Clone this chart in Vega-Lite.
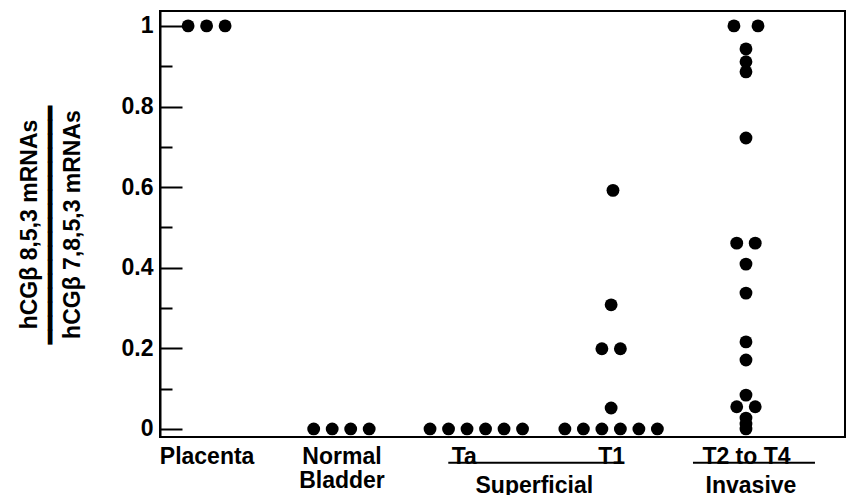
{
  "$schema": "https://vega.github.io/schema/vega-lite/v6.json",
  "width": 685,
  "height": 426,
  "autosize": "none",
  "padding": {"left": 160, "top": 11, "right": 2, "bottom": 58},
  "background": "white",
  "config": {
    "view": {"stroke": "black", "strokeWidth": 2},
    "font": "Liberation Sans",
    "text": {"font": "Liberation Sans"}
  },
  "datasets": {
    "points": [
      {"group": "Placenta", "ratio": 1, "slot": -1},
      {"group": "Placenta", "ratio": 1, "slot": 0},
      {"group": "Placenta", "ratio": 1, "slot": 1},
      {"group": "Normal Bladder", "ratio": 0, "slot": -1.5},
      {"group": "Normal Bladder", "ratio": 0, "slot": -0.5},
      {"group": "Normal Bladder", "ratio": 0, "slot": 0.5},
      {"group": "Normal Bladder", "ratio": 0, "slot": 1.5},
      {"group": "Ta", "ratio": 0, "slot": -2.5},
      {"group": "Ta", "ratio": 0, "slot": -1.5},
      {"group": "Ta", "ratio": 0, "slot": -0.5},
      {"group": "Ta", "ratio": 0, "slot": 0.5},
      {"group": "Ta", "ratio": 0, "slot": 1.5},
      {"group": "Ta", "ratio": 0, "slot": 2.5},
      {"group": "T1", "ratio": 0, "slot": -2.5},
      {"group": "T1", "ratio": 0, "slot": -1.5},
      {"group": "T1", "ratio": 0, "slot": -0.5},
      {"group": "T1", "ratio": 0, "slot": 0.5},
      {"group": "T1", "ratio": 0, "slot": 1.5},
      {"group": "T1", "ratio": 0, "slot": 2.5},
      {"group": "T1", "ratio": 0.052, "slot": 0},
      {"group": "T1", "ratio": 0.199, "slot": -0.5},
      {"group": "T1", "ratio": 0.199, "slot": 0.5},
      {"group": "T1", "ratio": 0.308, "slot": 0},
      {"group": "T1", "ratio": 0.592, "slot": 0.1},
      {"group": "T2 to T4", "ratio": 1, "slot": -0.65},
      {"group": "T2 to T4", "ratio": 1, "slot": 0.65},
      {"group": "T2 to T4", "ratio": 0.943, "slot": 0},
      {"group": "T2 to T4", "ratio": 0.911, "slot": 0},
      {"group": "T2 to T4", "ratio": 0.886, "slot": 0},
      {"group": "T2 to T4", "ratio": 0.722, "slot": 0},
      {"group": "T2 to T4", "ratio": 0.461, "slot": -0.5},
      {"group": "T2 to T4", "ratio": 0.461, "slot": 0.5},
      {"group": "T2 to T4", "ratio": 0.409, "slot": 0},
      {"group": "T2 to T4", "ratio": 0.337, "slot": 0},
      {"group": "T2 to T4", "ratio": 0.216, "slot": 0},
      {"group": "T2 to T4", "ratio": 0.171, "slot": 0},
      {"group": "T2 to T4", "ratio": 0.084, "slot": 0},
      {"group": "T2 to T4", "ratio": 0.055, "slot": -0.5},
      {"group": "T2 to T4", "ratio": 0.055, "slot": 0.5},
      {"group": "T2 to T4", "ratio": 0.027, "slot": 0},
      {"group": "T2 to T4", "ratio": 0.012, "slot": 0},
      {"group": "T2 to T4", "ratio": 0, "slot": 0}
    ]
  },
  "layer": [
    {
      "data": {"name": "points"},
      "mark": {"type": "circle", "size": 165, "color": "black", "opacity": 1},
      "encoding": {
        "x": {
          "field": "group",
          "type": "nominal",
          "scale": {"type": "point", "domain": ["Placenta", "Normal Bladder", "Ta", "T1", "T2 to T4"], "padding": 0.54, "align": 0.32},
          "axis": {
            "title": null,
            "ticks": false,
            "domain": false,
            "labelAngle": 0,
            "labelFont": "Liberation Sans",
            "labelFontWeight": "bold",
            "labelFontSize": 23,
            "labelColor": "black",
            "labelPadding": 8,
            "labelBaseline": "top",
            "labelLineHeight": 24,
            "labelAlign": {"condition": {"test": "datum.value == 'Ta'", "value": "right"}, "value": "center"},
            "labelExpr": "datum.value == 'Normal Bladder' ? ['Normal', 'Bladder'] : datum.value"
          }
        },
        "xOffset": {
          "field": "slot",
          "type": "quantitative",
          "scale": {"domain": [-3, 3], "range": [-55.5, 55.5]}
        },
        "y": {
          "field": "ratio",
          "type": "quantitative",
          "scale": {"domain": [-0.02, 1.037], "nice": false, "zero": false},
          "axis": {
            "values": [0, 0.05, 0.1, 0.15, 0.2, 0.25, 0.3, 0.35, 0.4, 0.45, 0.5, 0.55, 0.6, 0.65, 0.7, 0.75, 0.8, 0.85, 0.9, 0.95, 1],
            "labelExpr": "abs(datum.value * 5 - round(datum.value * 5)) < 0.001 ? ((datum.value == 0 || datum.value == 1) ? format(datum.value, 'd') : format(datum.value, '.1f')) : ''",
            "tickSize": {"condition": {"test": "abs(datum.value * 5 - round(datum.value * 5)) < 0.001", "value": -22}, "value": -12},
            "tickWidth": 2,
            "tickColor": "black",
            "domainColor": "black",
            "domainWidth": 2,
            "grid": false,
            "labelFont": "Liberation Sans",
            "labelFontWeight": "bold",
            "labelFontSize": 23,
            "labelColor": "black",
            "labelPadding": 29,
            "title": ["hCGβ 8,5,3 mRNAs", "━━━━━━━━━━━━━━━━━", "hCGβ 7,8,5,3  mRNAs"],
            "titleFont": "Liberation Sans",
            "titleFontWeight": "bold",
            "titleFontSize": 23,
            "titleColor": "black",
            "titleLineHeight": 21.5,
            "titlePadding": 37
          }
        }
      }
    },
    {
      "data": {"values": [{"from": "Ta", "to": "T1"}]},
      "mark": {"type": "rule", "color": "black", "strokeWidth": 2, "xOffset": -28, "x2Offset": 11},
      "encoding": {
        "x": {"field": "from", "type": "nominal"},
        "x2": {"field": "to"},
        "y": {"datum": -0.084, "type": "quantitative"}
      }
    },
    {
      "data": {"values": [{"from": "T2 to T4", "to": "T2 to T4"}]},
      "mark": {"type": "rule", "color": "black", "strokeWidth": 2, "xOffset": -53, "x2Offset": 69},
      "encoding": {
        "x": {"field": "from", "type": "nominal"},
        "x2": {"field": "to"},
        "y": {"datum": -0.084, "type": "quantitative"}
      }
    },
    {
      "data": {"values": [{"anchor": "Ta", "label": "Superficial"}]},
      "mark": {"type": "text", "fontWeight": "bold", "fontSize": 23, "color": "black", "baseline": "middle", "dx": 58},
      "encoding": {
        "x": {"field": "anchor", "type": "nominal"},
        "y": {"datum": -0.142, "type": "quantitative"},
        "text": {"field": "label"}
      }
    },
    {
      "data": {"values": [{"anchor": "T2 to T4", "label": "Invasive"}]},
      "mark": {"type": "text", "fontWeight": "bold", "fontSize": 23, "color": "black", "baseline": "middle", "dx": 5},
      "encoding": {
        "x": {"field": "anchor", "type": "nominal"},
        "y": {"datum": -0.142, "type": "quantitative"},
        "text": {"field": "label"}
      }
    }
  ]
}
